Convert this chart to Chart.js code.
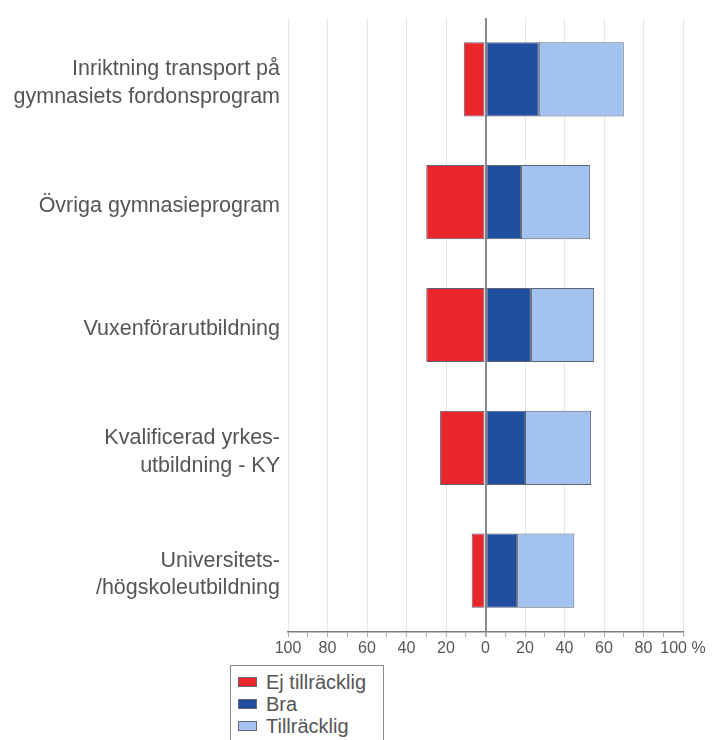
<!DOCTYPE html>
<html>
<head>
<meta charset="utf-8">
<script src="https://cdn.jsdelivr.net/npm/chart.js@4"></script>
<style>
  html, body { margin: 0; padding: 0; background: #fff; }
  #wrap { position: relative; width: 723px; height: 740px; overflow: hidden; }
  #legend {
    position: absolute; left: 230px; top: 665px; width: 154px; height: 90px;
    border: 1px solid #8a8a8a; background: #fff; box-sizing: border-box;
    padding-top: 5px; font-family: "Liberation Sans", Arial, sans-serif;
    font-size: 20px; color: #555;
  }
  .item { display: flex; align-items: center; height: 22px; }
  .sw { width: 19px; height: 10px; margin: 0 9px 0 7px; box-sizing: border-box; border: 1px solid #667; }
</style>
</head>
<body>
<div id="wrap">
  <canvas id="chart" width="723" height="740"></canvas>
  <div id="legend"></div>
</div>
<script>
// categories (y axis), multi-line labels
const categories = [
  ["Inriktning transport på", "gymnasiets fordonsprogram"],
  "Övriga gymnasieprogram",
  "Vuxenförarutbildning",
  ["Kvalificerad yrkes-", "utbildning - KY"],
  ["Universitets-", "/högskoleutbildning"]
];

// percent values (Ej tillräcklig drawn to the left)
const ejTillracklig = [-11, -30, -30, -23, -7];
const bra = [27, 18, 23, 20, 16];
const tillracklig = [43, 35, 32, 33.5, 29];

const seriesNames = ["Ej tillräcklig", "Bra", "Tillräcklig"];
const seriesColors = ["#e8262c", "#1f4f9e", "#a3c2ef"];

// x tick labels
const xTickValues = [-100, -80, -60, -40, -20, 0, 20, 40, 60, 80, 100];
const xTickLabels = ["100", "80", "60", "40", "20", "0", "20", "40", "60", "80", "100 %"];

const ctx = document.getElementById("chart").getContext("2d");

const chart = new Chart(ctx, {
  type: "bar",
  data: {
    labels: categories,
    datasets: [ejTillracklig, bra, tillracklig].map((values, i) => ({
      label: seriesNames[i],
      data: values,
      backgroundColor: seriesColors[i],
      borderColor: "#5a6275",
      borderWidth: 1,
      borderSkipped: false,
      barPercentage: 0.604,
      categoryPercentage: 1,
    })),
  },
  options: {
    indexAxis: "y",
    responsive: false,
    animation: false,
    layout: { padding: { top: 0, right: 40, left: 0, bottom: 0 } },
    scales: {
      x: {
        stacked: true,
        min: -100,
        max: 100,
        afterFit: (scale) => { scale.height = 108; },
        afterBuildTicks: (scale) => {
          const ticks = [];
          for (let v = -100; v <= 100; v += 10) ticks.push({ value: v });
          scale.ticks = ticks;
        },
        ticks: {
          autoSkip: false,
          maxRotation: 0,
          padding: 2,
          color: "#555",
          font: { family: "'Liberation Sans', Arial, sans-serif", size: 16 },
          callback: (value) => {
            const idx = xTickValues.indexOf(value);
            return idx >= 0 ? xTickLabels[idx] : "";
          },
        },
        border: { display: true, color: "#7a7a7a", width: 1.5 },
        grid: {
          drawTicks: true,
          tickLength: 5,
          tickColor: "#aaa",
          color: (c) => {
            if (!c.tick) return "transparent";
            if (c.tick.value === 0) return "#8a8a8a";
            return c.tick.value % 20 === 0 ? "#e6e6e6" : "transparent";
          },
          lineWidth: (c) => (c.tick && c.tick.value === 0 ? 2 : 1),
        },
      },
      y: {
        stacked: true,
        afterFit: (scale) => {
          scale.width = 288;
          // keep the plot area top where the reference has it
          scale.paddingTop = 18;
          scale.paddingBottom = 0;
        },
        grid: { display: false, drawTicks: false },
        border: { display: false },
        ticks: {
          padding: 8,
          labelOffset: 4,
          color: "#555",
          font: { family: "'Liberation Sans', Arial, sans-serif", size: 21.5, lineHeight: 1.3 },
        },
      },
    },
    plugins: {
      legend: { display: false },
      tooltip: { enabled: false },
    },
  },
});

// html legend built from the datasets
const legendEl = document.getElementById("legend");
chart.data.datasets.forEach((ds) => {
  const row = document.createElement("div");
  row.className = "item";
  const sw = document.createElement("span");
  sw.className = "sw";
  sw.style.background = ds.backgroundColor;
  const txt = document.createElement("span");
  txt.textContent = ds.label;
  row.appendChild(sw);
  row.appendChild(txt);
  legendEl.appendChild(row);
});
</script>
</body>
</html>
